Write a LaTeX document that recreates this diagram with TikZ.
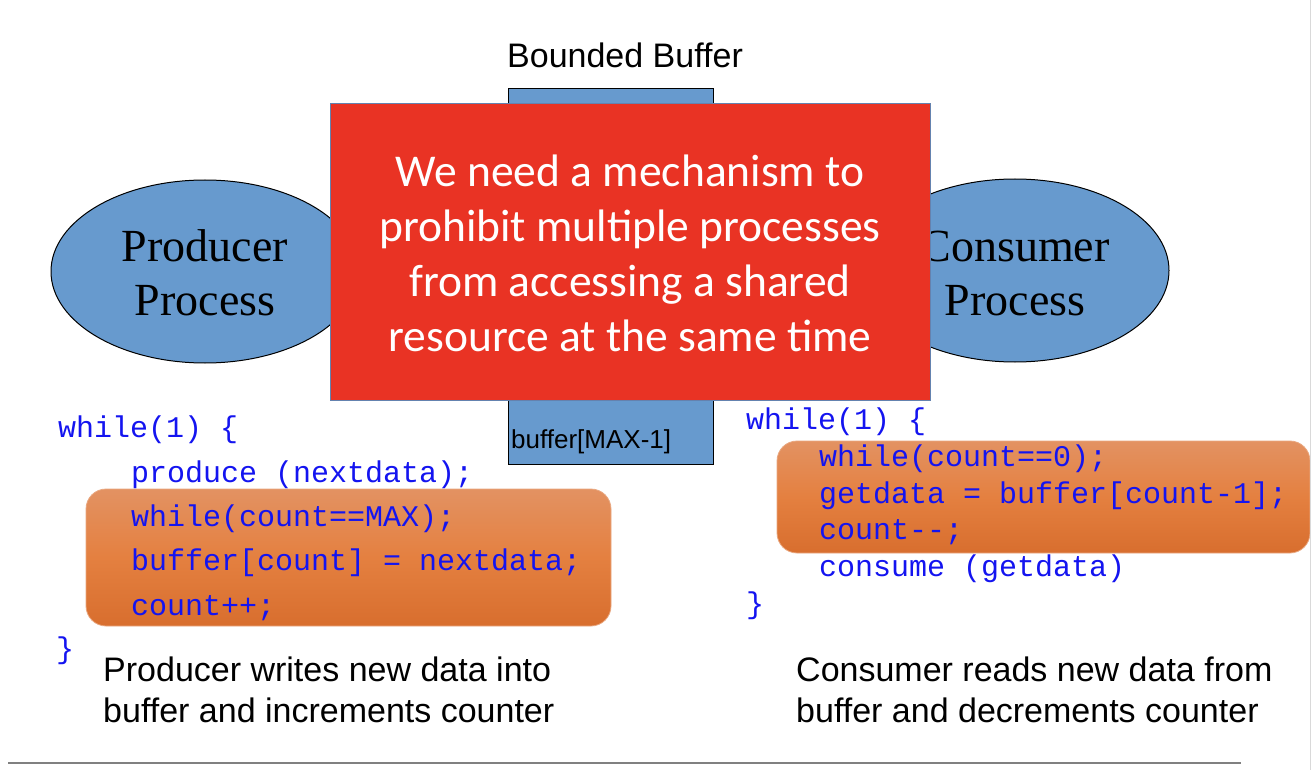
\documentclass[tikz,border=0pt]{standalone}
\usepackage{fontspec}
\setmainfont{Liberation Sans}
\newfontfamily\serifF{Liberation Serif}
\newfontfamily\monoF{Liberation Mono}
\newfontfamily\calF{Carlito}
\usetikzlibrary{shapes.geometric}
\definecolor{procblue}{RGB}{103,154,206}
\definecolor{alertred}{RGB}{233,51,36}
\definecolor{redborder}{RGB}{100,130,175}
\definecolor{orangetop}{RGB}{227,146,98}
\definecolor{orangemid}{RGB}{228,128,64}
\definecolor{orangebot}{RGB}{216,110,46}
\definecolor{codeblue}{RGB}{20,20,240}
\begin{document}
\begin{tikzpicture}[x=1pt,y=-1pt,
  proc/.style={ellipse,draw=black,line width=1pt,fill=procblue,minimum width=308pt,minimum height=183pt,inner sep=0pt},
  proctext/.style={font=\serifF\fontsize{46}{54}\selectfont,align=center,inner sep=0pt},
  code/.style={font=\monoF\fontsize{30}{36}\selectfont,text=codeblue,anchor=mid west,inner sep=0pt},
  hilite/.style={rounded corners=20pt,top color=orangetop,bottom color=orangebot,middle color=orangemid,draw=orangetop!80!white,line width=0.8pt},
  caption/.style={font=\fontsize{34}{41}\selectfont,align=left,anchor=north west,inner sep=0pt},
  label/.style={font=\fontsize{34}{40}\selectfont,inner sep=0pt}]
\useasboundingbox (0,0) rectangle (1312,770);
\fill[white] (0,0) rectangle (1312,770);

% processes
\node[proc] (prod) at (205,271.5) {};
\node[proc] (cons) at (1015,270.5) {};
\node[proctext] (prodt) at (205,273) {Producer\\Process};
\node[proctext] (const) at (1015,273) {Consumer\\Process};

% buffer
\node[label] (bbt) at (625,55) {Bounded Buffer};
\draw[fill=procblue,draw=black,line width=1pt] (508,89) rectangle (713,464);
\node[font=\fontsize{26}{30}\selectfont,anchor=mid west,inner sep=0pt] (bmax) at (511,446) {buffer[MAX-1]};

% alert box
\draw[fill=alertred,draw=redborder,line width=1pt] (330,104) rectangle (930,400);
\node[font=\calF\fontsize{45.5}{55}\selectfont,text=white,align=center,inner sep=0pt] (alert) at (630,253)
  {We need a mechanism to\\prohibit multiple processes\\from accessing a shared\\resource at the same time};

% highlight boxes
\draw[hilite] (86,489) rectangle (611,626);
\draw[hilite] (777,441) rectangle (1310,553);

% producer code
\node[code] (p1) at (58,435) {while(1) \{};
\node[code] (p2) at (131,480) {produce (nextdata);};
\node[code] (p3) at (131,524) {while(count==MAX);};
\node[code] (p4) at (131,568) {buffer[count] = nextdata;};
\node[code] (p5) at (131,613) {count++;};
\node[code] (p6) at (56,656) {\}};

% consumer code
\node[code] (c1) at (746,427) {while(1) \{};
\node[code] (c2) at (819,464) {while(count==0);};
\node[code] (c3) at (819,501) {getdata = buffer[count-1];};
\node[code] (c4) at (819,537) {count-{}-;};
\node[code] (c5) at (819,574) {consume (getdata)};
\node[code] (c6) at (746,611) {\}};

% captions
\node[caption] (pc) at (103,657) {Producer writes new data into\\buffer and increments counter};
\node[caption] (cc) at (796,657) {Consumer reads new data from\\buffer and decrements counter};

% rules
\coordinate (l1) at (8,763);
\coordinate (l2) at (1241,763);
\draw[gray,line width=1.5pt] (l1) -- (l2);
\coordinate (v1) at (1310.5,0);
\coordinate (v2) at (1310.5,770);
\draw[gray!30,line width=1pt] (v1) -- (v2);
\end{tikzpicture}
\end{document}
